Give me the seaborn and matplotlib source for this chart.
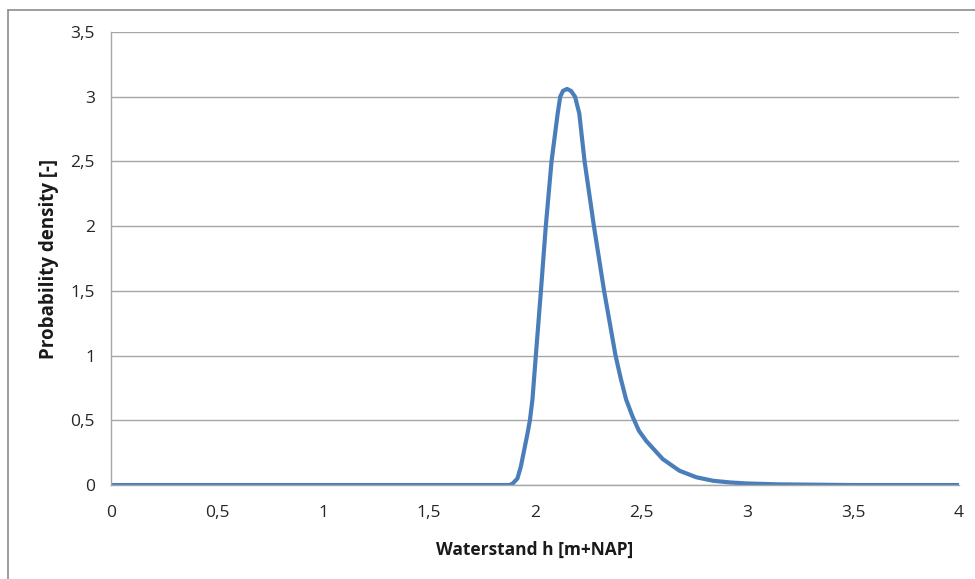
import matplotlib
matplotlib.use("Agg")
import matplotlib.pyplot as plt
from matplotlib.lines import Line2D
import pandas as pd
import seaborn as sns

# values
waterstand = [0.0, 1.0, 1.878, 1.894, 1.917, 1.933, 1.949, 1.965, 1.976, 1.988,
              2.004, 2.028, 2.051, 2.078, 2.107, 2.119, 2.132, 2.151,
              2.170, 2.189, 2.209, 2.234, 2.278, 2.326, 2.380, 2.405, 2.43,
              2.46, 2.49, 2.525, 2.603, 2.682, 2.761, 2.84, 2.92, 3.0, 3.15,
              3.5, 4.0]
density = [0.0, 0.0, 0.0, 0.01, 0.05, 0.14, 0.27, 0.40, 0.5, 0.66,
           1.0, 1.5, 2.0, 2.5, 2.87, 3.0, 3.045, 3.06,
           3.045, 3.0, 2.87, 2.5, 2.0, 1.5, 1.0, 0.82, 0.66,
           0.53, 0.42, 0.34, 0.2, 0.11, 0.06, 0.033, 0.02, 0.012, 0.005,
           0.0, 0.0]

x_ticks = [0, 0.5, 1, 1.5, 2, 2.5, 3, 3.5, 4]
x_labels = ["0", "0,5", "1", "1,5", "2", "2,5", "3", "3,5", "4"]
y_ticks = [0, 0.5, 1, 1.5, 2, 2.5, 3, 3.5]
y_labels = ["0", "0,5", "1", "1,5", "2", "2,5", "3", "3,5"]

df = pd.DataFrame({"h": waterstand, "p": density})

sns.set_style("white")
plt.rcParams["font.family"] = ["Open Sans", "DejaVu Sans"]

fig = plt.figure(figsize=(9.75, 5.79), dpi=100)
ax = fig.add_axes([0.1138, 0.1623, 0.8698, 0.7824])

sns.lineplot(data=df, x="h", y="p", ax=ax, color="#4A7EBB", linewidth=3)

ax.set_xlim(0, 4)
ax.set_ylim(0, 3.5)
ax.set_xticks(x_ticks)
ax.set_xticklabels(x_labels)
ax.set_yticks(y_ticks)
ax.set_yticklabels(y_labels)

grid_col = "#a6a6a6"
ax.yaxis.grid(True, color=grid_col, linewidth=1)
ax.xaxis.grid(False)
ax.set_axisbelow(True)
for side in ("top", "right"):
    ax.spines[side].set_visible(False)
for side in ("left", "bottom"):
    ax.spines[side].set_color(grid_col)
    ax.spines[side].set_linewidth(1)
ax.tick_params(axis="both", which="major", length=4.5, width=1, color=grid_col,
               labelsize=12.5, labelcolor="#262626", direction="out")
ax.tick_params(axis="x", pad=10)
ax.tick_params(axis="y", pad=7)

ax.set_xlabel("Waterstand h [m+NAP]", fontsize=12.5, fontweight="bold",
              labelpad=14, color="#1a1a1a")
ax.set_ylabel("Probability density [-]", fontsize=13.5, fontweight="bold",
              labelpad=8, color="#1a1a1a")

# chart-area border (top and left visible)
fig.add_artist(Line2D([8 / 975, 1.0], [1 - 10 / 579, 1 - 10 / 579],
                      transform=fig.transFigure, color="#8c8c8c", linewidth=1.2))
fig.add_artist(Line2D([8 / 975, 8 / 975], [0.0, 1 - 10 / 579],
                      transform=fig.transFigure, color="#8c8c8c", linewidth=1.2))

fig.savefig("out.png", dpi=100)
